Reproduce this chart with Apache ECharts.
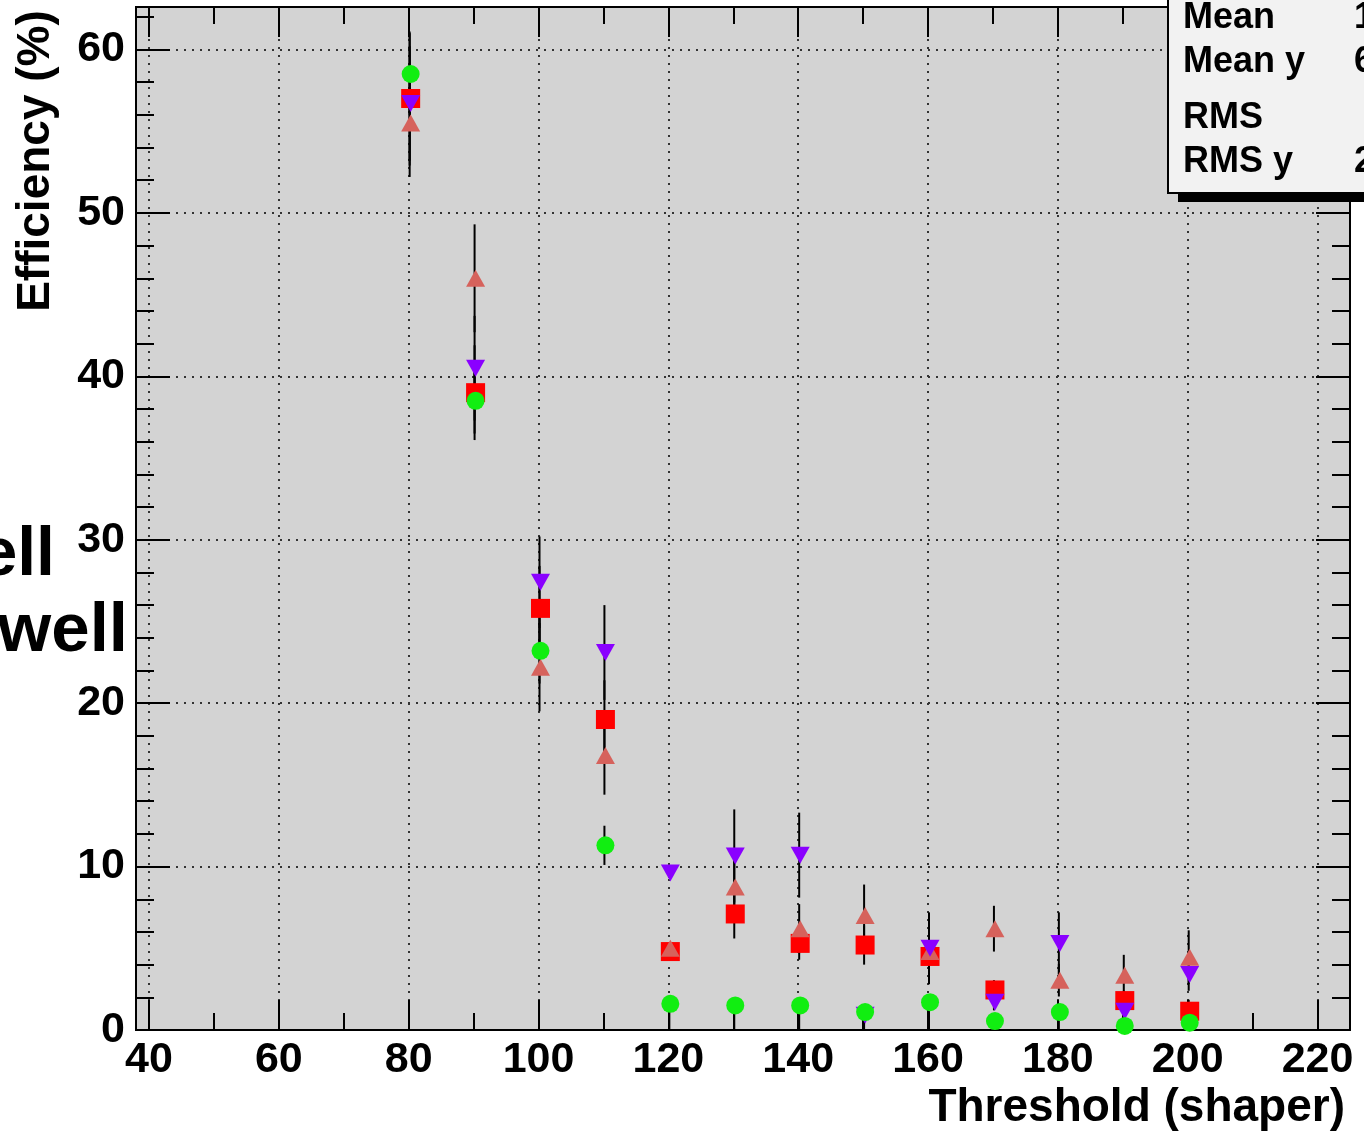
<!DOCTYPE html>
<html>
<head>
<meta charset="utf-8">
<title>Efficiency vs threshold</title>
<script src="https://cdn.jsdelivr.net/npm/echarts@6.0.0/dist/echarts.min.js"></script>
<style>
  html, body { margin: 0; padding: 0; background: #fff; }
  #chart { width: 1364px; height: 1134px; }
</style>
</head>
<body>
<div id="chart"></div>
<script>
// values, threshold in shaper units, efficiency in %
// (null = point not visible in the picture)
var thresholds = [80, 90, 100, 110, 120, 130, 140, 150, 160, 170, 180, 190, 200];

var effRed    = [57.0, 39.0, 25.8, 19.0, 4.8, 7.1, 5.3, 5.2, 4.5, 2.45, null, 1.8, 1.15];
var errRed    = [4.1, 2.9, 2.6, 2.4, 0.4, 1.5, 1.0, 1.2, 1.5, 0.6, 0, 0.6, 0.7];

var effSalmon = [55.5, 46.0, 22.2, 16.8, 5.0, 8.75, 6.2, 7.0, 4.8, 6.2, 3.05, 3.35, 4.45];
var errSalmon = [3.3, 3.3, 2.7, 2.4, 0.3, 2.0, 1.5, 1.9, 1.0, 1.4, 1.0, 1.25, 1.65];

var effPurple = [56.7, 40.5, 27.4, 23.1, 9.6, 10.65, 10.7, 0.9, 5.0, 1.7, 5.3, 1.15, 3.4];
var errPurple = [3.5, 3.2, 2.8, 2.9, 0.3, 2.85, 2.6, 0.3, 2.2, 0.5, 1.9, 0.4, 1.0];

var effGreen   = [58.5, 38.5, 23.2, 11.3, 1.6, 1.5, 1.5, 1.1, 1.7, 0.55, 1.1, 0.25, 0.45];
var errGreenLo = [2.5, 2.0, 2.0, 1.2, 1.6, 1.5, 1.5, 1.1, 1.7, 0.3, 1.1, 0.2, 0.3];
var errGreenHi = [2.5, 2.0, 2.0, 1.2, 0.5, 0.4, 0.4, 0.4, 0.5, 0.3, 0.4, 0.2, 0.3];

var xMajorTicks = [40, 60, 80, 100, 120, 140, 160, 180, 200, 220];
var xMinorTicks = [50, 70, 90, 110, 130, 150, 170, 190, 210];

var statNames  = ['Mean', 'Mean y', 'RMS', 'RMS y'];
var statValues = ['1', '6', '', '2'];   // cut off by the right edge

var FONT = '"Liberation Sans", Arial, Helvetica, sans-serif';
var plotRect = { left: 136, top: 7, width: 1214, height: 1023 };

function points(vals) {
  var out = [];
  thresholds.forEach(function (x, i) { if (vals[i] != null) out.push([x, vals[i]]); });
  return out;
}
function errorBars(vals, lo, hi) {
  var out = [];
  thresholds.forEach(function (x, i) {
    if (vals[i] != null) out.push([x, vals[i] - lo[i], vals[i] + hi[i]]);
  });
  return out;
}

var barData = [].concat(
  errorBars(effRed, errRed, errRed),
  errorBars(effSalmon, errSalmon, errSalmon),
  errorBars(effPurple, errPurple, errPurple),
  errorBars(effGreen, errGreenLo, errGreenHi)
);

var dotted = { color: '#333', width: 2, type: [2, 6] };
var black = { color: '#000', width: 2 };

var chart = echarts.init(document.getElementById('chart'));

var statRows = [18, 62, 118, 162];
var statsBox = [
  { type: 'rect', z: 100, shape: { x: 1178, y: 0, width: 200, height: 202 }, style: { fill: '#000' } },
  { type: 'rect', z: 101, shape: { x: 1168, y: -10, width: 210, height: 203 }, style: { fill: '#f2f2f2', stroke: '#000', lineWidth: 2 } }
].concat(statNames.map(function (name, i) {
  return {
    type: 'text', z: 102, x: 1183, y: statRows[i],
    style: { text: name, fill: '#000', font: 'bold 36px ' + FONT, textVerticalAlign: 'middle' }
  };
})).concat(statValues.map(function (val, i) {
  return {
    type: 'text', z: 102, x: 1354, y: statRows[i],
    style: { text: val, fill: '#000', font: 'bold 36px ' + FONT, textVerticalAlign: 'middle' }
  };
}));

var option = {
  animation: false,
  backgroundColor: '#fff',
  grid: [
    Object.assign({ show: true, backgroundColor: '#d3d3d3', borderColor: '#000', borderWidth: 2 }, plotRect),
    Object.assign({ show: false }, plotRect)
  ],
  xAxis: [
    {
      gridIndex: 0, type: 'value', position: 'bottom', min: 38, max: 225,
      axisLine: { show: true, onZero: false, lineStyle: black },
      axisTick: { show: true, inside: true, length: 30, customValues: xMajorTicks, lineStyle: black },
      axisLabel: {
        customValues: xMajorTicks, margin: 9, color: '#000',
        fontFamily: FONT, fontWeight: 'bold', fontSize: 43
      },
      splitLine: { show: true, lineStyle: dotted }
    },
    {
      gridIndex: 0, type: 'value', position: 'top', min: 38, max: 225,
      axisLine: { show: true, onZero: false, lineStyle: black },
      axisTick: { show: true, inside: true, length: 30, customValues: xMajorTicks, lineStyle: black },
      axisLabel: { show: false },
      splitLine: { show: false }
    },
    {
      gridIndex: 1, type: 'value', position: 'bottom', min: 38, max: 225,
      axisLine: { show: false, onZero: false },
      axisTick: { show: true, inside: true, length: 17, customValues: xMinorTicks, lineStyle: black },
      axisLabel: { show: false },
      splitLine: { show: false }
    },
    {
      gridIndex: 1, type: 'value', position: 'top', min: 38, max: 225,
      axisLine: { show: false, onZero: false },
      axisTick: { show: true, inside: true, length: 17, customValues: xMinorTicks, lineStyle: black },
      axisLabel: { show: false },
      splitLine: { show: false }
    }
  ],
  yAxis: [
    {
      gridIndex: 0, type: 'value', position: 'left', min: 0, max: 62.6, interval: 10,
      axisLine: { show: true, onZero: false, lineStyle: black },
      axisTick: { show: true, inside: true, length: 34, lineStyle: black },
      minorTick: { show: true, splitNumber: 5, length: 18, lineStyle: black },
      axisLabel: {
        margin: 11, color: '#000', showMaxLabel: false,
        fontFamily: FONT, fontWeight: 'bold', fontSize: 43
      },
      splitLine: { show: true, lineStyle: dotted }
    },
    {
      gridIndex: 0, type: 'value', position: 'right', min: 0, max: 62.6, interval: 10,
      axisLine: { show: true, onZero: false, lineStyle: black },
      axisTick: { show: true, inside: true, length: 34, lineStyle: black },
      minorTick: { show: true, splitNumber: 5, length: 18, lineStyle: black },
      axisLabel: { show: false },
      splitLine: { show: false }
    },
    { gridIndex: 1, type: 'value', min: 0, max: 62.6, show: false }
  ],
  series: [
    {
      name: 'errors', type: 'custom', xAxisIndex: 0, yAxisIndex: 0, z: 3,
      encode: { x: 0, y: [1, 2] },
      renderItem: function (params, api) {
        var lo = api.coord([api.value(0), Math.max(0, api.value(1))]);
        var hi = api.coord([api.value(0), api.value(2)]);
        return {
          type: 'line',
          shape: { x1: lo[0] + 1, y1: lo[1], x2: hi[0] + 1, y2: hi[1] },
          style: { stroke: '#000', lineWidth: 2 }
        };
      },
      data: barData
    },
    {
      name: 'red', type: 'scatter', z: 4, symbol: 'rect', symbolSize: 19, symbolOffset: [2, 0],
      itemStyle: { color: '#ff0000', opacity: 1 }, data: points(effRed)
    },
    {
      name: 'salmon', type: 'scatter', z: 5, symbol: 'triangle', symbolSize: [19, 17], symbolOffset: [2, 0],
      itemStyle: { color: '#d6625c', opacity: 1 }, data: points(effSalmon)
    },
    {
      name: 'purple', type: 'scatter', z: 6, symbol: 'triangle', symbolRotate: 180, symbolSize: [19, 17], symbolOffset: [2, 0],
      itemStyle: { color: '#8a00ff', opacity: 1 }, data: points(effPurple)
    },
    {
      name: 'green', type: 'scatter', z: 7, symbol: 'circle', symbolSize: 18, symbolOffset: [2, 0],
      itemStyle: { color: '#11ee11', opacity: 1 }, data: points(effGreen)
    }
  ],
  graphic: [
    {
      type: 'text', x: 36, y: 161, rotation: Math.PI / 2,
      style: {
        text: 'Efficiency (%)', fill: '#000', font: 'bold 46px ' + FONT,
        textAlign: 'center', textVerticalAlign: 'middle'
      }
    },
    {
      type: 'text', x: 1345, y: 1108,
      style: {
        text: 'Threshold (shaper)', fill: '#000', font: 'bold 46px ' + FONT,
        textAlign: 'right', textVerticalAlign: 'middle'
      }
    },
    {
      type: 'text', x: 55, y: 556,
      style: { text: 'ell', fill: '#000', font: 'bold 68px ' + FONT, textAlign: 'right', textVerticalAlign: 'middle' }
    },
    {
      type: 'text', x: 128, y: 632,
      style: { text: 'well', fill: '#000', font: 'bold 69px ' + FONT, textAlign: 'right', textVerticalAlign: 'middle' }
    }
  ].concat(statsBox)
};

chart.setOption(option);
</script>
</body>
</html>
